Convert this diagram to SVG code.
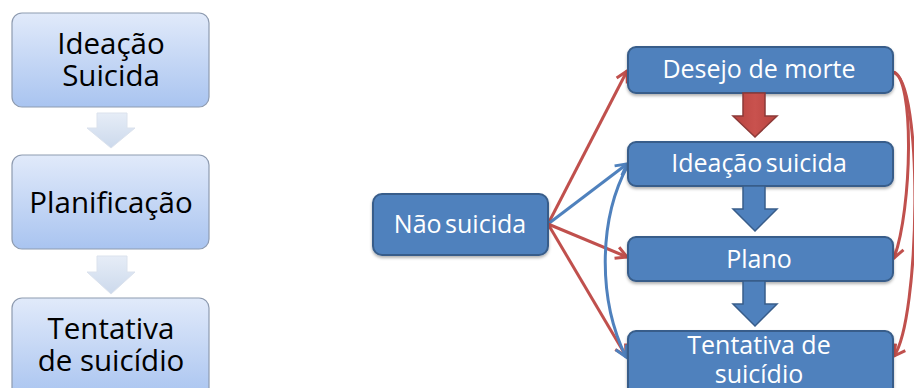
<svg xmlns="http://www.w3.org/2000/svg" width="914" height="388" viewBox="0 0 914 388">
  <defs>
    <linearGradient id="lg" x1="0" y1="0" x2="0" y2="1">
      <stop offset="0" stop-color="#e1eafa"/>
      <stop offset="1" stop-color="#a9c4f0"/>
    </linearGradient>
    <linearGradient id="chev" x1="0" y1="0" x2="0" y2="1">
      <stop offset="0" stop-color="#e6edf7"/>
      <stop offset="1" stop-color="#ccd9ec"/>
    </linearGradient>
    <linearGradient id="redg" x1="0" y1="0" x2="1" y2="0">
      <stop offset="0" stop-color="#b8433f"/>
      <stop offset="0.5" stop-color="#c9524e"/>
      <stop offset="1" stop-color="#b8433f"/>
    </linearGradient>
    <filter id="sh" x="-10%" y="-10%" width="120%" height="130%">
      <feDropShadow dx="0" dy="2" stdDeviation="1.5" flood-color="#000" flood-opacity="0.3"/>
    </filter>
    <marker id="ar" markerUnits="userSpaceOnUse" markerWidth="16" markerHeight="16" refX="13" refY="8" orient="auto">
      <path d="M2,2 L13,8 L2,14" fill="none" stroke="#c0504d" stroke-width="3" stroke-linejoin="miter"/>
    </marker>
    <marker id="ab" markerUnits="userSpaceOnUse" markerWidth="16" markerHeight="16" refX="13" refY="8" orient="auto">
      <path d="M2,2 L13,8 L2,14" fill="none" stroke="#4f81bd" stroke-width="3" stroke-linejoin="miter"/>
    </marker>
  </defs>
  <style>
    .lbox { fill: url(#lg); stroke: #8e9bb0; stroke-width: 1.2; }
    .ltxt { font-family: "Open Sans", "Noto Sans", sans-serif; font-size: 29.5px; fill: #000; text-anchor: middle; }
    .chev { fill: url(#chev); stroke: #dbe2ed; stroke-width: 1; }
    .rbox { fill: #4f81bd; stroke: #385d8a; stroke-width: 2; filter: url(#sh); }
    .rtxt { font-family: "Open Sans", "Noto Sans", sans-serif; font-size: 25px; fill: #fff; text-anchor: middle; }
    .tight { word-spacing: -3px; }
    .red { fill: none; stroke: #c0504d; stroke-width: 3; marker-end: url(#ar); }
    .blue { fill: none; stroke: #4f81bd; stroke-width: 3; marker-end: url(#ab); }
    .barrow { fill: #4f81bd; stroke: #385d8a; stroke-width: 1.5; }
    .rarrow { fill: url(#redg); stroke: #8c3a38; stroke-width: 1.5; }
  </style>

  <!-- Left flow -->
  <g id="left-ideacao">
    <rect class="lbox" x="12" y="13" width="197" height="94" rx="10"/>
    <text class="ltxt" x="111" y="54">Ideação</text>
    <text class="ltxt" x="111" y="86">Suicida</text>
  </g>
  <g id="left-arrow1">
    <path class="chev" d="M97,113 H127 V128 H135 L111,148 L87,128 H97 Z"/>
  </g>
  <g id="left-planificacao">
    <rect class="lbox" x="12" y="155" width="197" height="94" rx="10"/>
    <text class="ltxt" x="111" y="213">Planificação</text>
  </g>
  <g id="left-arrow2">
    <path class="chev" d="M97,256 H127 V272 H135 L111,294 L87,272 H97 Z"/>
  </g>
  <g id="left-tentativa">
    <rect class="lbox" x="12" y="298" width="197" height="100" rx="10"/>
    <text class="ltxt" x="111" y="339">Tentativa</text>
    <text class="ltxt" x="111" y="371">de suicídio</text>
  </g>

  <!-- Connectors -->
  <g id="connectors">
    <path class="red" d="M548,224 L627,71"/>
    <path class="blue" d="M548,224 L627,164"/>
    <path class="red" d="M548,224 L627,257"/>
    <path class="red" d="M548,224 L626,356"/>
    <path class="blue" d="M628,165 C598,220 598,300 626,357"/>
    <path class="red" d="M893,72 C915,76 912,210 894,258"/>
    <path class="red" d="M893,72 C924,80 920,320 894,356"/>
  </g>

  <!-- Right flow -->
  <g id="nao-suicida">
    <rect class="rbox" x="373" y="194" width="175" height="61" rx="9"/>
    <text class="rtxt tight" x="460" y="233">Não suicida</text>
  </g>
  <g id="desejo">
    <rect class="rbox" x="628" y="47" width="265" height="46" rx="8"/>
    <text class="rtxt" x="759" y="78">Desejo de morte</text>
  </g>
  <g id="arrow-red">
    <path class="rarrow" d="M743,93 H765 V116 H777 L755,137 L733,116 H743 Z"/>
  </g>
  <g id="ideacao">
    <rect class="rbox" x="628" y="142" width="265" height="44" rx="8"/>
    <text class="rtxt tight" x="759" y="172">Ideação suicida</text>
  </g>
  <g id="arrow-blue1">
    <path class="barrow" d="M743,186 H765 V209 H777 L755,231 L733,209 H743 Z"/>
  </g>
  <g id="plano">
    <rect class="rbox" x="628" y="237" width="265" height="44" rx="8"/>
    <text class="rtxt" x="759" y="268">Plano</text>
  </g>
  <g id="arrow-blue2">
    <path class="barrow" d="M743,281 H765 V304 H777 L755,326 L733,304 H743 Z"/>
  </g>
  <g id="tentativa">
    <rect class="rbox" x="628" y="331" width="265" height="70" rx="8"/>
    <text class="rtxt" x="759" y="354">Tentativa de</text>
    <text class="rtxt" x="759" y="383">suicídio</text>
  </g>
</svg>
